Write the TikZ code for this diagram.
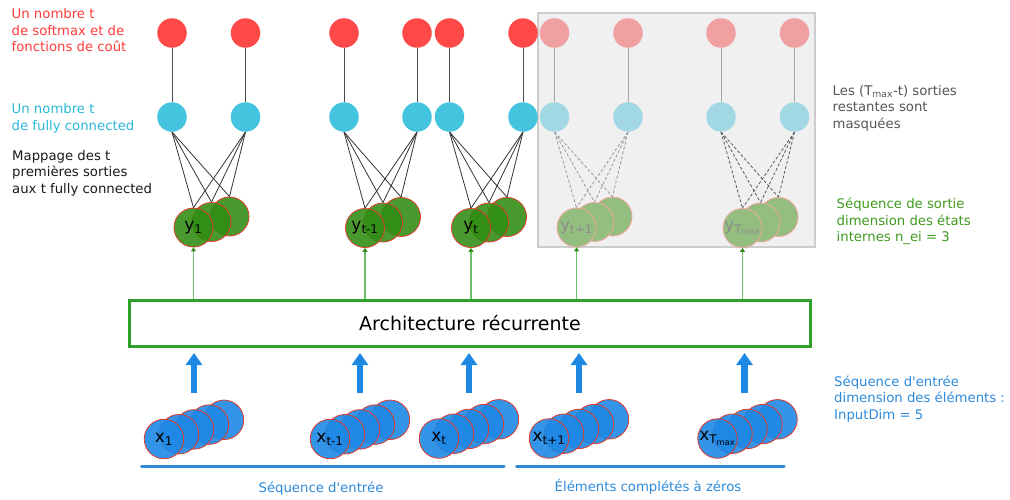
\documentclass[tikz,border=0pt]{standalone}
\usepackage{fontspec}
\setmainfont{DejaVu Sans}
\usetikzlibrary{arrows.meta}
\pgfdeclarelayer{back}
\pgfdeclarelayer{bg}
\pgfsetlayers{back,bg,main}
\definecolor{cred}{HTML}{FF4848}
\definecolor{credm}{HTML}{F0A0A0}
\definecolor{ccyan}{HTML}{45C4E0}
\definecolor{ccyanm}{HTML}{A2D8E4}
\definecolor{cgreen}{HTML}{2F8C12}
\definecolor{cgreenm}{HTML}{93BE80}
\definecolor{cblue}{HTML}{1E88E5}
\definecolor{cborder}{HTML}{E03A2A}
\definecolor{tred}{HTML}{FF3B3B}
\definecolor{tcyan}{HTML}{2BB8D8}
\definecolor{tgray}{HTML}{555555}
\definecolor{tgreen}{HTML}{3E9A1E}
\definecolor{tblue}{HTML}{2C8ADB}
\definecolor{boxgreen}{HTML}{30A02A}
\definecolor{arrgreen}{HTML}{6CC26C}
\begin{document}
\begin{tikzpicture}[x=1pt,y=-1pt,
  font=\fontsize{13.25}{16.5}\selectfont,
  red0/.style={circle, fill=cred, minimum size=29.5, inner sep=0},
  red1/.style={circle, fill=credm, minimum size=29.5, inner sep=0},
  red2/.style={red1},
  cy0/.style={circle, fill=ccyan, minimum size=29.5, inner sep=0},
  cy1/.style={circle, fill=ccyanm, minimum size=29.5, inner sep=0},
  cy2/.style={cy1},
  gr0/.style={circle, fill=cgreen, fill opacity=0.88, text opacity=1, draw=cborder, line width=0.8, minimum size=39, inner sep=0, font=\fontsize{17}{17}\selectfont},
  gr1/.style={circle, fill=cgreenm, draw=cborder!45, line width=0.8, minimum size=39, inner sep=0, text=black!45, font=\fontsize{17}{17}\selectfont},
  gr2/.style={gr1},
  vl0/.style={draw=black!70, line width=1},
  vl1/.style={draw=black!35, line width=1},
  vl2/.style={vl1},
  fc0/.style={draw=black!80, line width=0.8},
  fc1/.style={draw=black!40, line width=0.8, dash pattern=on 3pt off 2pt},
  fc2/.style={draw=black!65, line width=0.8, dash pattern=on 3pt off 2pt},
  inp/.style={circle, fill=cblue, fill opacity=0.9, text opacity=1, draw=cborder, line width=0.8, minimum size=39.5, inner sep=0, font=\fontsize{17}{17}\selectfont},
  barr/.style={draw=cblue, line width=6.5, -{Triangle[width=16pt,length=12pt]}},
  garr/.style={draw=arrgreen, line width=1.2, -{Triangle[width=5pt,length=4pt,color=cgreen]}},
  bline/.style={draw=tblue, line width=3.5, line cap=round},
  maskbox/.style={fill=black!6, draw=black!20, line width=2, inner sep=0},
  archbox/.style={draw=boxgreen, line width=3, inner sep=0, font=\fontsize{19}{22}\selectfont},
  lbl/.style={anchor=base west, align=left, inner sep=0}
]
\useasboundingbox (0,0) rectangle (1010,499);

\begin{pgfonlayer}{back}
\node[maskbox, minimum width=276.7, minimum height=234.3] (mask) at (676.65,129.85) {};
\end{pgfonlayer}

\node[archbox, minimum width=680.5, minimum height=45.5] (arch) at (470,323.25) {Architecture récurrente};

\foreach \g/\ra/\rb/\gx/\gy/\ix/\iy/\ax/\yl/\xl/\m in {
 1/172/245.5/193.5/227.5/164/439/194/{y\textsubscript{1}}/{x\textsubscript{1}}/0,
 2/344/417/365/228/330/439/360/{y\textsubscript{t-1}}/{x\textsubscript{t-1}}/0,
 3/449.5/523/471/228/439/438.5/469/{y\textsubscript{t}}/{x\textsubscript{t}}/0,
 4/554.5/628/576.5/227.5/549/438.5/579/{y\textsubscript{t+1}}/{x\textsubscript{t+1}}/1,
 5/721/794.5/742.5/228/717.5/438.5/744.5/{y\textsubscript{T\textsubscript{max}}}/{x\textsubscript{T\textsubscript{max}}}/2}
{
  \node[red\m] (r\g a) at (\ra,33) {};
  \node[red\m] (r\g b) at (\rb,33) {};
  \node[cy\m] (c\g a) at (\ra,117) {};
  \node[cy\m] (c\g b) at (\rb,117) {};
  \node[gr\m] (g\g c) at (\gx+36,\gy-11) {};
  \node[gr\m] (g\g b) at (\gx+18,\gy-5.5) {};
  \node[gr\m] (g\g a) at (\gx,\gy) {\yl};
  \begin{pgfonlayer}{bg}
    \draw[vl\m] (r\g a) -- (c\g a);
    \draw[vl\m] (r\g b) -- (c\g b);
    \foreach \s in {a,b}
      \foreach \t in {a,b,c}
        \draw[fc\m] (c\g\s.south) -- (g\g\t.north);
  \end{pgfonlayer}
  \draw[garr] (g\g a |- arch.north) -- (g\g a.south);
  \coordinate (ba\g) at (\ax,393);
  \coordinate (bt\g) at (\ax,353);
  \draw[barr] (ba\g) -- (bt\g);
  \foreach \k in {4,3,2,1}
    \node[inp] (i\g\k) at (\ix+15*\k,\iy-4.8*\k) {};
  \node[inp] (i\g 0) at (\ix,\iy) {\xl};
}

\coordinate (l1a) at (141.7,466.7);
\coordinate (l1b) at (504,466.7);
\coordinate (l2a) at (516.7,466.7);
\coordinate (l2b) at (784,466.7);
\draw[bline] (l1a) -- (l1b);
\draw[bline] (l2a) -- (l2b);
\node[anchor=base, text=tblue, inner sep=0] (tseq) at (321,492) {Séquence d\textquotesingle entrée};
\node[anchor=base, text=tblue, inner sep=0] (tzero) at (648,491) {Éléments complétés à zéros};

\node[lbl, text=tred] (tsoft) at (11.5,51.5) {Un nombre t\\de softmax et de\\fonctions de coût};
\node[lbl, text=tcyan] (tfc) at (11.5,130) {Un nombre t\\de fully connected};
\node[lbl, text=black!90] (tmap) at (12,193) {Mappage des t\\premières sorties\\aux t fully connected};
\node[lbl, text=tgray] (tmask) at (832.5,128) {Les (T\textsubscript{max}-t) sorties\\restantes sont\\masquées};
\node[lbl, text=tgreen] (tout) at (836.5,241.5) {Séquence de sortie\\dimension des états\\internes n\_ei = 3};
\node[lbl, text=tblue] (tin) at (834,419) {Séquence d\textquotesingle entrée\\dimension des éléments :\\InputDim = 5};
\end{tikzpicture}
\end{document}
